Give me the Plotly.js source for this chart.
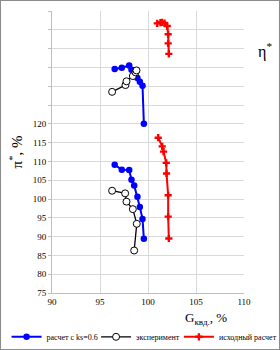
<!DOCTYPE html>
<html><head><meta charset="utf-8">
<script src="https://cdn.plot.ly/plotly-3.0.1.min.js"></script>
<style>
html,body{margin:0;padding:0;background:#fff;}
#chart{width:278px;height:348px;border:1px solid #8c8c8c;}
</style></head>
<body><div id="chart"></div>
<script>
// Series: расчет с ks=0.6
const G_calc   = [96.53, 97.27, 98.04, 98.28, 98.56, 98.90, 99.15, 99.43, 99.57];
const pi_calc  = [109.1, 107.8, 107.7, 105.1, 103.6, 100.6, 97.9, 94.7, 89.4];
const eta_calc = [134.6, 134.9, 135.5, 134.4, 133.3, 132.2, 131.2, 130.1, 120.0];
// Series: эксперимент
const G_exp    = [96.26, 97.62, 97.76, 98.42, 98.83, 98.56];
const pi_exp   = [102.2, 101.5, 99.3, 97.3, 93.4, 86.3];
const G_exp_eta= [96.26, 97.65, 97.76, 98.42, 98.70, 98.80];
const eta_exp  = [128.5, 130.3, 131.3, 132.7, 133.7, 134.2];
// Series: исходный расчет
const G_base   = [101.06, 101.48, 101.62, 101.90, 101.93, 102.10, 102.10, 102.17];
const pi_base  = [116.3, 114.0, 112.6, 109.6, 106.8, 101.0, 95.3, 89.5];
const G_base_eta=[100.96, 101.30, 101.45, 101.72, 102.00, 102.10, 102.10, 102.17];
const eta_base = [146.7, 146.9, 147.0, 146.8, 146.0, 143.8, 141.4, 138.6];
const names = ["расчет с ks=0.6", "эксперимент", "исходный расчет"];
const yTicks = [75,80,85,90,95,100,105,110,115,120,125,130,135,140,145,150];
const yTickLabels = ["75","80","85","90","95","100","105","110","115","120","","","","","",""];
const xTicks = [90,95,100,105,110];

function joined(a, b){ return a.concat([null], b); }

const traces = [
  {x: joined(G_calc, G_calc), y: joined(pi_calc, eta_calc), name: names[0], legend:'legend',
   mode:'lines+markers', connectgaps:false,
   line:{color:'#0000ff', width:2}, marker:{color:'#0000ff', size:6.5, symbol:'circle'}},
  {x: joined(G_exp, G_exp_eta), y: joined(pi_exp, eta_exp), name: names[1], legend:'legend2',
   mode:'lines+markers', connectgaps:false,
   line:{color:'#000000', width:1.3}, marker:{color:'#ffffff', size:7, symbol:'circle', line:{color:'#000000', width:1}}},
  {x: joined(G_base, G_base_eta), y: joined(pi_base, eta_base), name: names[2], legend:'legend3',
   mode:'lines+markers', connectgaps:false,
   line:{color:'#ff0000', width:2}, marker:{color:'#ff0000', size:6, symbol:'cross'}}
];

function leg(x){
  return {orientation:'h', xref:'container', x:x, xanchor:'left', yref:'container', y:0.035, yanchor:'middle',
          font:{family:'Liberation Serif', size:8, color:'#000'}, itemwidth:30, bgcolor:'rgba(0,0,0,0)'};
}

const layout = {
  width:278, height:348,
  margin:{l:51, r:35, t:10, b:56},
  paper_bgcolor:'#fff', plot_bgcolor:'#fff',
  showlegend:true,
  legend: leg(0.02), legend2: leg(0.342), legend3: leg(0.64),
  xaxis:{range:[90,110], tickvals:xTicks, ticktext:xTicks.map(String),
         showgrid:true, gridcolor:'#d9d9d9', gridwidth:1, zeroline:false,
         showline:true, linecolor:'#bfbfbf', ticks:'', 
         tickfont:{family:'Liberation Serif', size:9, color:'#000'}},
  yaxis:{range:[75,150], tickvals:yTicks, ticktext:yTickLabels,
         showgrid:true, gridcolor:'#d9d9d9', gridwidth:1, zeroline:false,
         showline:true, linecolor:'#bfbfbf', ticks:'outside', ticklen:3, tickcolor:'#bfbfbf',
         tickfont:{family:'Liberation Serif', size:9, color:'#000'},
         title:{text:'π<sup>*</sup>, %', font:{family:'Liberation Serif', size:15, color:'#000'}, standoff:6}},
  annotations:[
    {text:'G<sub>квд.</sub>, %', xref:'paper', yref:'paper', x:0.80, y:-0.09, showarrow:false,
     xanchor:'center', yanchor:'middle', font:{family:'Liberation Serif', size:13, color:'#000'}},
    {text:'η<sup>*</sup>', xref:'paper', yref:'paper', x:1.11, y:0.86, showarrow:false,
     xanchor:'center', yanchor:'middle', font:{family:'Liberation Serif', size:16, color:'#000'}}
  ]
};
Plotly.newPlot('chart', traces, layout, {displayModeBar:false, staticPlot:true});
</script></body></html>
